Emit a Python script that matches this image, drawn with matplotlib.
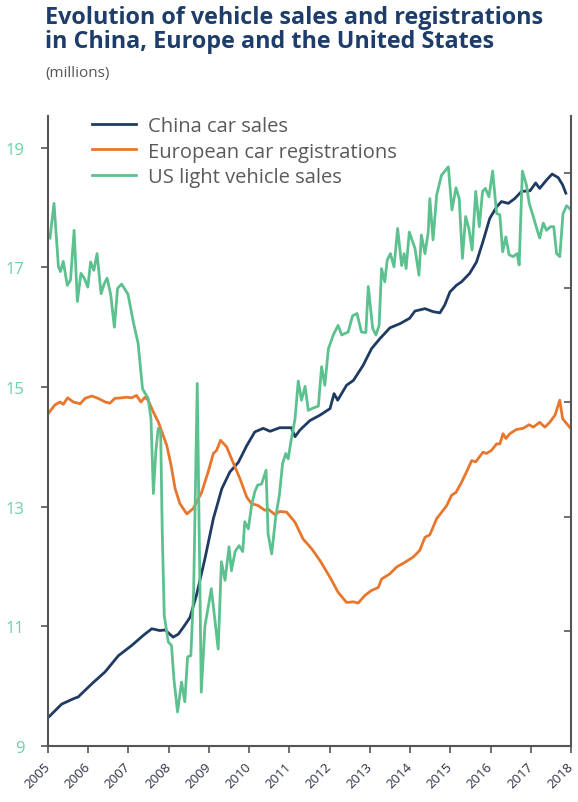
import matplotlib
matplotlib.use("Agg")
import matplotlib.pyplot as plt

# =========================
# Data (millions)
# =========================
us_years = [2005.05, 2005.15, 2005.26, 2005.31, 2005.38, 2005.48, 2005.56, 2005.65, 2005.73, 2005.82,
            2005.90, 2005.99, 2006.06, 2006.14, 2006.22, 2006.32, 2006.40, 2006.47, 2006.56, 2006.65,
            2006.73, 2006.83, 2006.99, 2007.12, 2007.24, 2007.35, 2007.49, 2007.56, 2007.62, 2007.68,
            2007.74, 2007.80, 2007.84, 2007.89, 2007.99, 2008.07, 2008.13, 2008.22, 2008.32, 2008.40,
            2008.47, 2008.55, 2008.62, 2008.71, 2008.81, 2008.90, 2009.06, 2009.23, 2009.31, 2009.40,
            2009.50, 2009.56, 2009.65, 2009.75, 2009.84, 2009.89, 2009.98, 2010.06, 2010.14, 2010.21,
            2010.31, 2010.42, 2010.47, 2010.56, 2010.66, 2010.75, 2010.83, 2010.91, 2010.97, 2011.05,
            2011.14, 2011.22, 2011.30, 2011.39, 2011.47, 2011.59, 2011.72, 2011.80, 2011.88, 2011.97,
            2012.09, 2012.21, 2012.30, 2012.46, 2012.57, 2012.68, 2012.79, 2012.90, 2012.96, 2013.07,
            2013.15, 2013.23, 2013.29, 2013.37, 2013.43, 2013.51, 2013.60, 2013.69, 2013.79, 2013.85,
            2013.90, 2013.98, 2014.12, 2014.22, 2014.28, 2014.37, 2014.45, 2014.49, 2014.57, 2014.66,
            2014.78, 2014.95, 2015.04, 2015.14, 2015.22, 2015.30, 2015.38, 2015.46, 2015.54, 2015.63,
            2015.72, 2015.80, 2015.87, 2015.96, 2016.05, 2016.15, 2016.23, 2016.30, 2016.38, 2016.46,
            2016.56, 2016.66, 2016.71, 2016.79, 2016.89, 2016.96, 2017.06, 2017.16, 2017.22, 2017.31,
            2017.39, 2017.49, 2017.57, 2017.64, 2017.72, 2017.80, 2017.89, 2018.00]
us_vals = [17.49, 18.07, 17.01, 16.93, 17.10, 16.70, 16.79, 17.62, 16.43, 16.90,
           16.82, 16.67, 17.09, 16.95, 17.23, 16.56, 16.73, 16.82, 16.54, 16.00,
           16.65, 16.72, 16.55, 16.09, 15.73, 14.97, 14.81, 14.47, 13.22, 13.92,
           14.31, 14.26, 12.58, 11.18, 10.74, 10.68, 10.12, 9.57, 10.07, 9.74,
           10.49, 10.51, 11.58, 15.06, 9.90, 11.00, 11.63, 10.62, 12.08, 11.77,
           12.33, 11.93, 12.25, 12.35, 12.25, 12.75, 12.63, 13.02, 13.25, 13.36,
           13.38, 13.61, 12.55, 12.21, 12.83, 13.19, 13.72, 13.89, 13.80, 14.14,
           14.47, 15.10, 14.78, 15.01, 14.61, 14.65, 14.68, 15.34, 15.03, 15.64,
           15.87, 16.03, 15.87, 15.92, 16.19, 16.23, 15.92, 15.91, 16.68, 15.98,
           15.87, 16.03, 16.98, 16.76, 17.12, 17.23, 17.01, 17.65, 17.03, 17.23,
           16.98, 17.59, 17.32, 16.87, 17.54, 17.23, 17.59, 18.15, 17.46, 18.21,
           18.54, 18.68, 17.96, 18.33, 18.15, 17.15, 17.85, 17.65, 17.29, 18.27,
           17.68, 18.27, 18.32, 18.18, 18.61, 17.90, 17.88, 17.26, 17.51, 17.21,
           17.18, 17.23, 17.04, 18.61, 18.38, 18.07, 17.85, 17.62, 17.49, 17.74,
           17.62, 17.68, 17.68, 17.23, 17.18, 17.90, 18.03, 17.96]

cn_years = [2005.01, 2005.34, 2005.63, 2005.75, 2006.09, 2006.42, 2006.75, 2007.08, 2007.37, 2007.58,
            2007.78, 2007.91, 2008.11, 2008.24, 2008.39, 2008.53, 2008.69, 2008.90, 2009.11, 2009.32,
            2009.52, 2009.73, 2009.94, 2010.14, 2010.35, 2010.52, 2010.76, 2011.05, 2011.14, 2011.26,
            2011.51, 2011.76, 2012.01, 2012.11, 2012.20, 2012.42, 2012.59, 2012.83, 2013.04, 2013.25,
            2013.50, 2013.75, 2013.99, 2014.12, 2014.37, 2014.57, 2014.74, 2014.86, 2014.99, 2015.15,
            2015.28, 2015.48, 2015.65, 2015.81, 2015.98, 2016.15, 2016.27, 2016.44, 2016.60, 2016.77,
            2016.98, 2017.12, 2017.22, 2017.39, 2017.53, 2017.68, 2017.79, 2017.87]
cn_vals = [9.48, 9.70, 9.79, 9.82, 10.04, 10.24, 10.51, 10.68, 10.85, 10.96,
           10.93, 10.94, 10.82, 10.87, 11.01, 11.15, 11.52, 12.13, 12.80, 13.30,
           13.58, 13.74, 14.02, 14.25, 14.31, 14.26, 14.32, 14.32, 14.17, 14.28,
           14.44, 14.53, 14.64, 14.89, 14.78, 15.03, 15.11, 15.36, 15.64, 15.81,
           15.99, 16.06, 16.15, 16.27, 16.31, 16.26, 16.24, 16.37, 16.59, 16.70,
           16.76, 16.90, 17.09, 17.43, 17.82, 18.01, 18.10, 18.07, 18.15, 18.27,
           18.28, 18.41, 18.32, 18.46, 18.56, 18.50, 18.38, 18.24]

eu_years = [2005.01, 2005.17, 2005.30, 2005.38, 2005.49, 2005.63, 2005.80, 2005.92, 2006.09, 2006.25,
            2006.42, 2006.54, 2006.66, 2006.83, 2006.96, 2007.08, 2007.20, 2007.31, 2007.41, 2007.49,
            2007.62, 2007.70, 2007.74, 2007.95, 2008.06, 2008.16, 2008.28, 2008.45, 2008.61, 2008.82,
            2008.98, 2009.11, 2009.19, 2009.29, 2009.44, 2009.60, 2009.77, 2009.94, 2010.06, 2010.22,
            2010.39, 2010.47, 2010.64, 2010.76, 2010.93, 2011.14, 2011.34, 2011.55, 2011.76, 2012.01,
            2012.21, 2012.42, 2012.59, 2012.71, 2012.88, 2013.04, 2013.21, 2013.29, 2013.50, 2013.66,
            2013.87, 2014.08, 2014.24, 2014.37, 2014.49, 2014.66, 2014.82, 2014.91, 2015.03, 2015.14,
            2015.28, 2015.40, 2015.53, 2015.63, 2015.81, 2015.90, 2016.02, 2016.15, 2016.23, 2016.31,
            2016.38, 2016.48, 2016.64, 2016.81, 2016.96, 2017.06, 2017.22, 2017.35, 2017.47, 2017.60,
            2017.72, 2017.79, 2017.89, 2017.99]
eu_vals = [14.56, 14.70, 14.75, 14.71, 14.82, 14.75, 14.72, 14.81, 14.85, 14.81,
           14.75, 14.73, 14.81, 14.82, 14.83, 14.82, 14.86, 14.75, 14.83, 14.78,
           14.58, 14.47, 14.42, 14.03, 13.69, 13.30, 13.05, 12.88, 12.97, 13.24,
           13.58, 13.89, 13.94, 14.11, 14.00, 13.74, 13.47, 13.16, 13.05, 13.02,
           12.94, 12.96, 12.87, 12.92, 12.91, 12.74, 12.46, 12.30, 12.10, 11.82,
           11.57, 11.40, 11.41, 11.39, 11.52, 11.60, 11.65, 11.79, 11.88, 11.99,
           12.07, 12.16, 12.27, 12.49, 12.53, 12.80, 12.94, 13.02, 13.19, 13.24,
           13.41, 13.58, 13.77, 13.75, 13.91, 13.89, 13.94, 14.05, 14.05, 14.22,
           14.14, 14.22, 14.29, 14.31, 14.37, 14.33, 14.41, 14.33, 14.41, 14.53,
           14.78, 14.47, 14.39, 14.31]

years = list(range(2005, 2019))
left_ticks = [9, 11, 13, 15, 17, 19]
right_ticks = [9, 11, 13, 15, 17, 19]

labels = ["China car sales", "European car registrations", "US light vehicle sales"]

# =========================
# Style
# =========================
navy = "#1f3b63"
orange = "#e8772e"
green = "#5cc18f"
axis_col = "#555555"

plt.rcParams["font.family"] = ["Open Sans", "DejaVu Sans"]

fig = plt.figure(figsize=(5.78, 8.03), dpi=100)
ax = fig.add_axes([0.083, 0.0697, 0.905, 0.7846])

ax.plot(cn_years, cn_vals, color=navy, lw=2, label=labels[0])
ax.plot(eu_years, eu_vals, color=orange, lw=2, label=labels[1])
ax.plot(us_years, us_vals, color=green, lw=2, label=labels[2])

ax.set_xlim(2005, 2018)
ax.set_ylim(9, 19.53)
ax.set_xticks(years)
ax.set_xticklabels([str(y) for y in years], rotation=45, ha="right", va="center",
                   rotation_mode="anchor", fontsize=9.5, color="#2a2f45")
ax.set_yticks(left_ticks)
ax.set_yticklabels([str(t) for t in left_ticks], fontsize=12, color="#6fd0a4")
ax.tick_params(axis="x", direction="out", length=5, width=1.2, color=axis_col, pad=8)
ax.tick_params(axis="y", direction="out", length=5, width=1.2, color=axis_col, pad=12)

for s in ["left", "bottom", "right"]:
    ax.spines[s].set_color(axis_col)
    ax.spines[s].set_linewidth(1.5)
ax.spines["top"].set_visible(False)

# secondary axis: ticks only
ax2 = ax.twinx()
ax2.set_ylim(9, 20)
ax2.set_yticks(right_ticks)
ax2.set_yticklabels([])
ax2.tick_params(axis="y", direction="in", length=5, width=1.2, color=axis_col)
for s in ["left", "bottom", "right", "top"]:
    ax2.spines[s].set_visible(False)

leg = ax.legend(loc="upper left", bbox_to_anchor=(0.068, 1.012), frameon=False,
                handlelength=2.2, handletextpad=0.6, labelspacing=0.25, fontsize=14.5,
                borderaxespad=0)
for t in leg.get_texts():
    t.set_color("#5a5a5a")

# =========================
# Titles
# =========================
fig.text(0.078, 0.992, "Evolution of vehicle sales and registrations\nin China, Europe and the United States",
         ha="left", va="top", fontsize=16.8, fontweight="bold", color="#1e3d6b", linespacing=1.0)
fig.text(0.078, 0.909, "(millions)", ha="left", va="center", fontsize=11, color="#555555")

plt.savefig("out.png", dpi=100)
